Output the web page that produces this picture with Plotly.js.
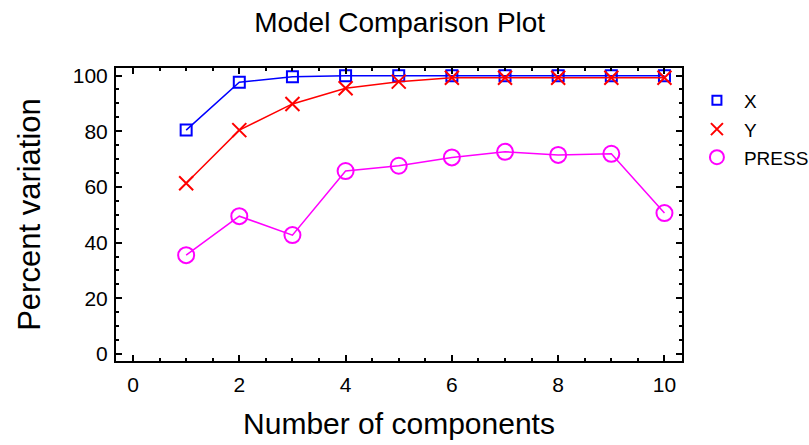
<!DOCTYPE html>
<html><head><meta charset="utf-8">
<script src="https://cdn.plot.ly/plotly-3.0.1.min.js"></script>
<style>html,body{margin:0;padding:0;background:#fff;}#chart{width:809px;height:445px;}</style>
</head><body><div id="chart"></div>
<script>
const components = [1,2,3,4,5,6,7,8,9,10];
const xVar = [80.4, 97.6, 99.6, 99.9, 99.9, 99.9, 99.9, 99.9, 99.9, 99.9];
const yVar = [61.3, 80.4, 89.8, 95.4, 97.8, 99.2, 99.2, 99.2, 99.2, 99.2];
const pressVar = [35.5, 49.5, 42.7, 65.7, 67.6, 70.6, 72.6, 71.5, 71.9, 50.6];
const seriesNames = ['X','Y','PRESS'];
const colors = ['#0000ff','#ff0000','#ff00ff'];
const symbols = ['square-open','x-thin-open','circle-open'];
const sizes = [11, 14, 16];
const seriesValues = [xVar, yVar, pressVar];

const font = 'Liberation Sans, Arial, sans-serif';
const legendIds = ['legend', 'legend2', 'legend3'];
const legendY = [0.9546, 0.8556, 0.760];
const traces = [];
seriesValues.forEach((vals, i) => {
  traces.push({x: components, y: vals, name: seriesNames[i], mode: 'lines+markers', showlegend: false,
    line: {color: colors[i], width: 1.5},
    marker: {symbol: symbols[i], size: sizes[i], color: colors[i], line: {width: 2, color: colors[i]}}});
});
seriesValues.forEach((vals, i) => {
  traces.push({x: [null], y: [null], name: seriesNames[i], mode: 'markers', showlegend: true,
    legend: legendIds[i],
    marker: {symbol: symbols[i], size: sizes[i] - 2, color: colors[i], line: {width: 2, color: colors[i]}}});
});
const axisCommon = {
  showline: true, linecolor: '#000', linewidth: 2, mirror: 'ticks',
  ticks: 'inside', ticklen: 6, tickwidth: 2, tickcolor: '#000',
  showgrid: false, zeroline: false, automargin: false,
  tickfont: {family: font, size: 21, color: '#000'}
};
const layout = {
  width: 809, height: 445,
  margin: {l: 116, r: 127, t: 68, b: 84, autoexpand: false},
  paper_bgcolor: '#fff', plot_bgcolor: '#fff',
  title: {text: 'Model Comparison Plot', font: {family: font, size: 28, color: '#000'},
          x: 0.494, xanchor: 'center', y: 0.95, yanchor: 'middle'},
  xaxis: Object.assign({}, axisCommon, {
    range: [-0.32, 10.33], tick0: 0, dtick: 2, ticklabelstandoff: 4,
    minor: {dtick: 0.5, ticklen: 3, tickwidth: 2, tickcolor: '#000', ticks: 'inside'},
    title: {text: 'Number of components', font: {family: font, size: 30, color: '#000'}, standoff: 18}
  }),
  yaxis: Object.assign({}, axisCommon, {
    range: [-2.5, 102.7], tick0: 0, dtick: 20, ticklabelstandoff: 2,
    minor: {dtick: 5, ticklen: 3, tickwidth: 2, tickcolor: '#000', ticks: 'inside'},
    title: {text: 'Percent variation', font: {family: font, size: 31, color: '#000'}, standoff: 23}
  }),
  showlegend: true
};
legendIds.forEach((id, i) => {
  layout[id] = {x: 1.014, xanchor: 'left', y: legendY[i], yanchor: 'top', itemwidth: 44,
    font: {family: font, size: 19, color: '#000'}, bgcolor: 'rgba(0,0,0,0)'};
});
Plotly.newPlot('chart', traces, layout, {displayModeBar: false, staticPlot: true});
</script></body></html>
